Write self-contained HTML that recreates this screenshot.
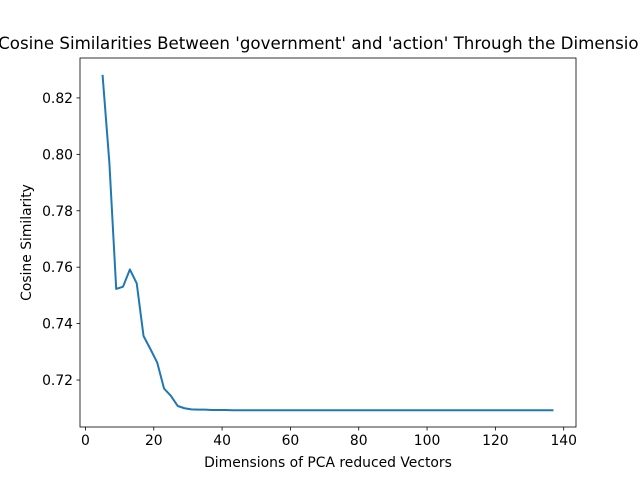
<!DOCTYPE html>
<html><head><meta charset="utf-8"><style>
body{margin:0;background:#fff}
svg{display:block;font-family:"DejaVu Sans","Liberation Sans",sans-serif}
</style></head><body>
<svg id="chart" width="640" height="480">
<rect width="640" height="480" fill="#fff"/>
<text x="328" y="49" text-anchor="middle" font-size="16.67">Cosine Similarities Between 'government' and 'action' Through the Dimensions</text>
<g id="plot"></g>
<rect x="80" y="58" width="496" height="369" fill="none" stroke="#000" stroke-width="0.8"/>
<text x="328" y="467" text-anchor="middle" font-size="13.9">Dimensions of PCA reduced Vectors</text>
<text transform="translate(31,242.5) rotate(-90)" text-anchor="middle" font-size="13.9">Cosine Similarity</text>
</svg>
<script>
const dims = [5,7,9,11,13,15,17,19,21,23,25,27,29,31,33,35,37,39,41,43,45,47,49,51,53,55,57,59,61,63,65,67,69,71,73,75,77,79,81,83,85,87,89,91,93,95,97,99,101,103,105,107,109,111,113,115,117,119,121,123,125,127,129,131,133,135,137];
const sims = [0.8282,0.797,0.7523,0.7531,0.7592,0.7543,0.7356,0.7310,0.7262,0.7170,0.7144,0.7108,0.7100,0.7096,0.7095,0.7095,0.7094,0.7094,0.7094,0.7093,0.7093,0.7093,0.7093,0.7093,0.7093,0.7093,0.7093,0.7093,0.7093,0.7093,0.7093,0.7093,0.7093,0.7093,0.7093,0.7093,0.7093,0.7093,0.7093,0.7093,0.7093,0.7093,0.7093,0.7093,0.7093,0.7093,0.7093,0.7093,0.7093,0.7093,0.7093,0.7093,0.7093,0.7093,0.7093,0.7093,0.7093,0.7093,0.7093,0.7093,0.7093,0.7093,0.7093,0.7093,0.7093,0.7093,0.7093];
const xTicks = [0,20,40,60,80,100,120,140];
const yTicks = [0.72,0.74,0.76,0.78,0.80,0.82];
const L=80,R=576,T=58,B=427;
const xmin=Math.min(...dims),xmax=Math.max(...dims),ymin=Math.min(...sims),ymax=Math.max(...sims);
const xpad=(xmax-xmin)*0.05,ypad=(ymax-ymin)*0.05;
const xs=v=>L+(v-(xmin-xpad))/((xmax+xpad)-(xmin-xpad))*(R-L);
const ys=v=>B-(v-(ymin-ypad))/((ymax+ypad)-(ymin-ypad))*(B-T);
const NS="http://www.w3.org/2000/svg";
const g=document.getElementById('plot');
function mk(tag,attrs){const e=document.createElementNS(NS,tag);for(const k in attrs)e.setAttribute(k,attrs[k]);g.appendChild(e);return e;}
xTicks.forEach(t=>{const x=xs(t);
 const l=mk('line',{x1:x,x2:x,y1:B,y2:B+3.5,stroke:'#000','stroke-width':0.8});
 
 
 const tx=mk('text',{x:x,y:B+18,'text-anchor':'middle','font-size':13.9});tx.textContent=t;
 
 
});
yTicks.forEach(t=>{const y=ys(t);
 const l=mk('line',{x1:L-3.5,x2:L,y1:y,y2:y,stroke:'#000','stroke-width':0.8});
 
 
 const tx=mk('text',{x:L-7,y:y+5,'text-anchor':'end','font-size':13.9});tx.textContent=t.toFixed(2);
 
 
});
const p=mk('polyline',{points:dims.map((d,i)=>xs(d)+','+ys(sims[i])).join(' '),fill:'none',stroke:'#1f77b4','stroke-width':2,'stroke-linejoin':'round'});


</script>
</body></html>
